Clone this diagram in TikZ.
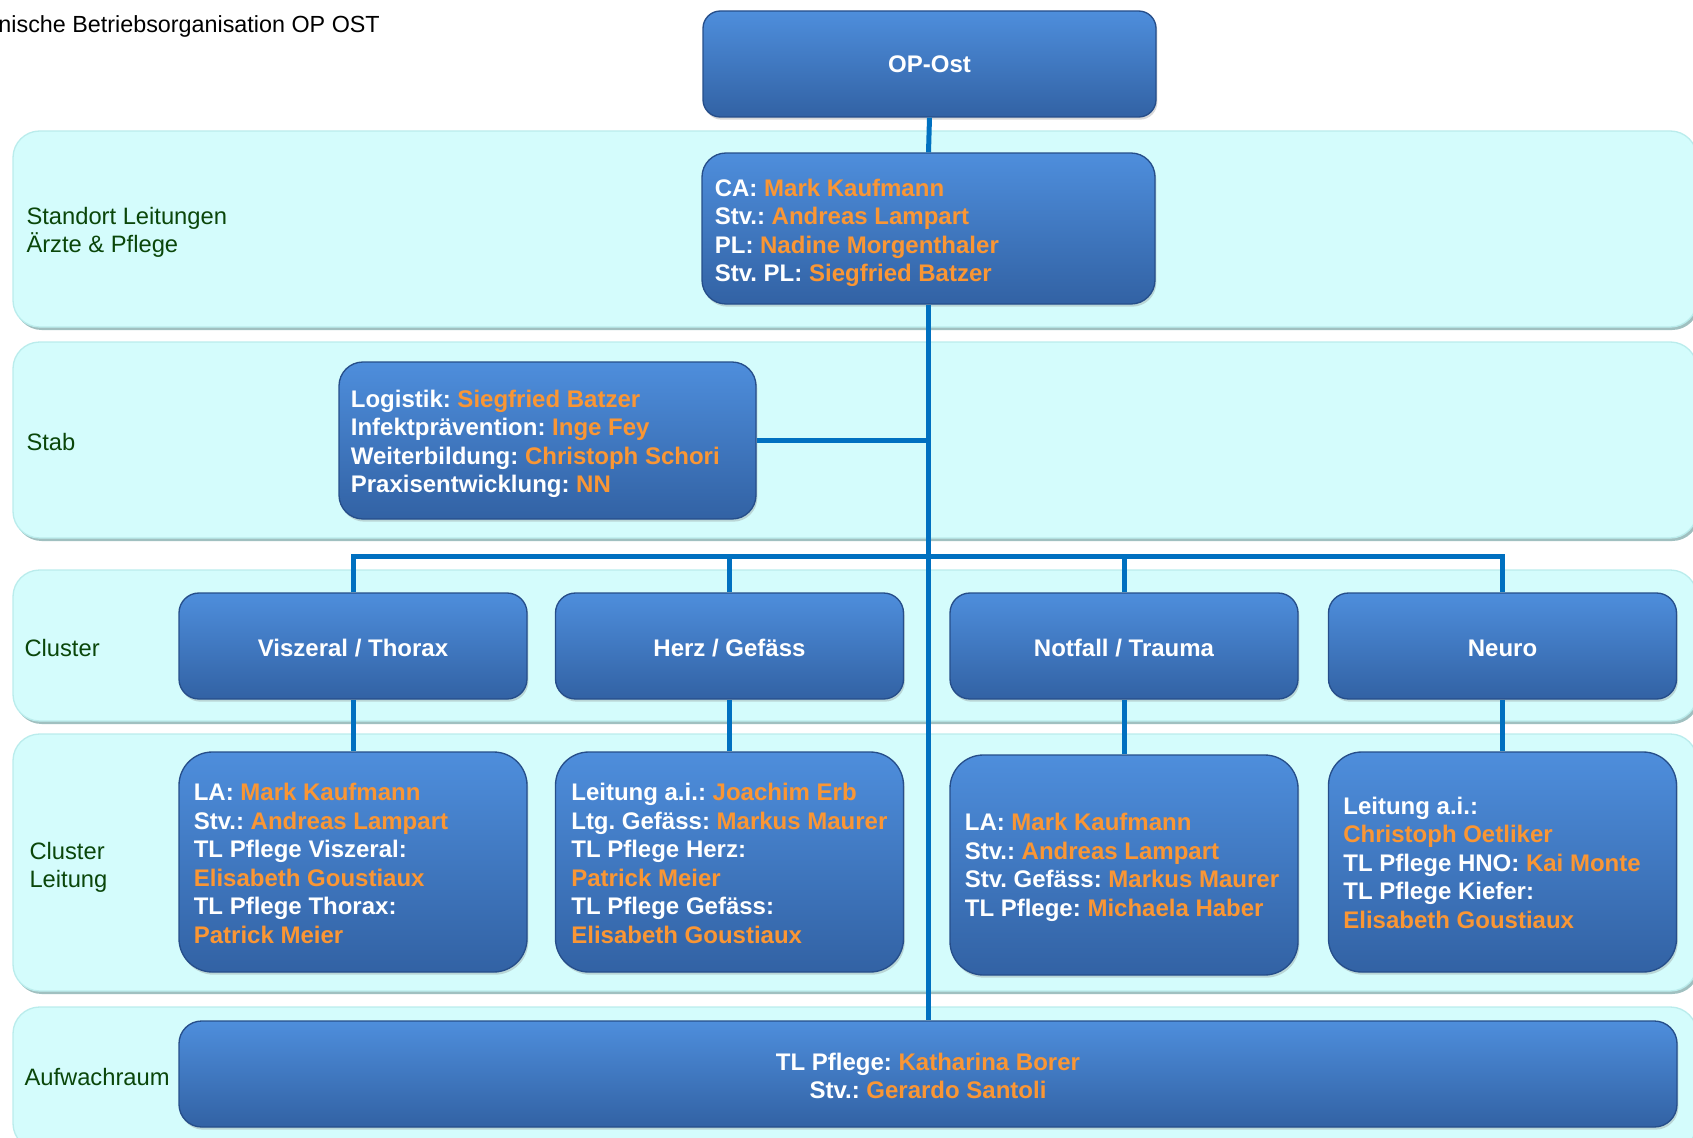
\documentclass[tikz,border=0pt]{standalone}
\usepackage{fontspec}
\setmainfont{Liberation Sans}
\usetikzlibrary{shadows}
\frenchspacing

\definecolor{bandfill}{RGB}{212,252,252}
\definecolor{bandline}{RGB}{186,236,236}
\definecolor{bandshade}{RGB}{160,192,192}
\definecolor{boxtop}{RGB}{78,142,220}
\definecolor{boxbot}{RGB}{50,98,164}
\definecolor{boxline}{RGB}{38,78,138}
\definecolor{linkblue}{RGB}{0,112,192}
\definecolor{namecol}{RGB}{250,150,52}
\definecolor{rowlabel}{RGB}{10,70,10}
\newcommand{\pname}[1]{\textcolor{namecol}{#1}}

\tikzset{every picture/.style={line width=0.75pt}}
\tikzset{
	band/.style={draw=bandline, fill=bandfill, line width=1pt, rounded corners=20pt},
	bandshadow/.style={fill=bandshade, rounded corners=20pt},
	bluebox/.style={draw=boxline, line width=1pt, top color=boxtop, bottom color=boxbot, rounded corners=13pt, inner sep=0pt, drop shadow={shadow xshift=1pt, shadow yshift=-2pt, opacity=0.3}},
	boxtext/.style={text=white, font=\bfseries\fontsize{18}{21.4}\selectfont, align=left, inner sep=0pt, anchor=west},
	boxtitle/.style={text=white, font=\bfseries\fontsize{18}{21.4}\selectfont, align=center, inner sep=0pt},
	rowtext/.style={text=rowlabel, font=\fontsize{17.8}{20.8}\selectfont, align=left, inner sep=0pt, anchor=west},
	link/.style={draw=linkblue, line width=3.75pt},
}

\begin{document}
\begin{tikzpicture}[x=0.75pt,y=0.75pt,yscale=-1,xscale=1]
	\useasboundingbox (0,0) rectangle (1693,1138);

	%Rows [Standort Leitungen] 
	\fill[bandshadow] (15,134) rectangle (1699,330);
	\draw[band] (13,131) rectangle (1697,327);
	%Rows [Stab] 
	\fill[bandshadow] (15,345) rectangle (1699,541);
	\draw[band] (13,342) rectangle (1697,538);
	%Rows [Cluster] 
	\fill[bandshadow] (15,573) rectangle (1699,724);
	\draw[band] (13,570) rectangle (1697,721);
	%Rows [Cluster Leitung] 
	\fill[bandshadow] (15,737) rectangle (1699,994);
	\draw[band] (13,734) rectangle (1697,991);
	%Rows [Aufwachraum] 
	\fill[bandshadow] (15,1010) rectangle (1699,1153);
	\draw[band] (13,1007) rectangle (1697,1150);

	% Text Node
	\node[anchor=base west, inner sep=0pt, font=\fontsize{17.5}{21}\selectfont] (subtitle) at (-2,33) {nische Betriebsorganisation OP OST};

	% Text Node
	\node[rowtext] (lblstandort) at (26,232) {Standort Leitungen\\Ärzte \& Pflege};
	% Text Node
	\node[rowtext] (lblstab) at (26,442) {Stab};
	% Text Node
	\node[rowtext] (lblcluster) at (24,648) {Cluster};
	% Text Node
	\node[rowtext] (lblcleitung) at (29,867) {Cluster\\Leitung};
	% Text Node
	\node[rowtext] (lblaufw) at (24,1077) {Aufwachraum};

	%Rounded Rect [OP-Ost] 
	\node[bluebox, minimum width=339.75pt, minimum height=79.5pt] (opost) at (929.5,64) {};
	\node[boxtitle] (opostlbl) at (opost.center) {OP-Ost};
	%Rounded Rect [Standort] 
	\node[bluebox, minimum width=339.75pt, minimum height=113.25pt, rounded corners=18pt] (ca) at (928.5,228.5) {};
	\node[boxtext] (catext) at ([shift={(13,4.5)}]ca.west) {CA: \pname{Mark Kaufmann}\\Stv.: \pname{Andreas Lampart}\\PL: \pname{Nadine Morgenthaler}\\Stv. PL: \pname{Siegfried Batzer}};
	%Rounded Rect [Stab] 
	\node[bluebox, minimum width=312.75pt, minimum height=117.75pt, rounded corners=18pt] (stab) at (547.5,440.5) {};
	\node[boxtext] (stabtext) at ([shift={(12,3.5)}]stab.west) {Logistik: \pname{Siegfried Batzer}\\Infektprävention: \pname{Inge Fey}\\Weiterbildung: \pname{Christoph Schori}\\Praxisentwicklung: \pname{NN}};

	%Rounded Rect [Cluster] 
	\node[bluebox, minimum width=261pt, minimum height=79.5pt, rounded corners=15pt] (cvt) at (353,646) {};
	\node[boxtitle] (cvtlbl) at ([shift={(0,2.5)}]cvt.center) {Viszeral / Thorax};
	\node[bluebox, minimum width=261pt, minimum height=79.5pt, rounded corners=15pt] (chg) at (729.5,646) {};
	\node[boxtitle] (chglbl) at ([shift={(0,2.5)}]chg.center) {Herz / Gefäss};
	\node[bluebox, minimum width=261pt, minimum height=79.5pt, rounded corners=15pt] (cnt) at (1124,646) {};
	\node[boxtitle] (cntlbl) at ([shift={(0,2.5)}]cnt.center) {Notfall / Trauma};
	\node[bluebox, minimum width=261pt, minimum height=79.5pt, rounded corners=15pt] (cneu) at (1502.5,646) {};
	\node[boxtitle] (cneulbl) at ([shift={(0,2.5)}]cneu.center) {Neuro};

	%Rounded Rect [Cluster Leitung] 
	\node[bluebox, minimum width=261pt, minimum height=165pt, rounded corners=25pt] (lvt) at (353,862) {};
	\node[boxtext] (lvttext) at ([shift={(15,1.5)}]lvt.west) {LA: \pname{Mark Kaufmann}\\Stv.: \pname{Andreas Lampart}\\TL Pflege Viszeral:\\\pname{Elisabeth Goustiaux}\\TL Pflege Thorax:\\\pname{Patrick Meier}};
	\node[bluebox, minimum width=261pt, minimum height=165pt, rounded corners=25pt] (lhg) at (729.5,862) {};
	\node[boxtext] (lhgtext) at ([shift={(16,1.5)}]lhg.west) {Leitung a.i.: \pname{Joachim Erb}\\Ltg. Gefäss: \pname{Markus Maurer}\\TL Pflege Herz:\\\pname{Patrick Meier}\\TL Pflege Gefäss:\\\pname{Elisabeth Goustiaux}};
	\node[bluebox, minimum width=261pt, minimum height=165pt, rounded corners=25pt] (lnt) at (1124,865) {};
	\node[boxtext] (lnttext) at ([shift={(15,2.5)}]lnt.west) {LA: \pname{Mark Kaufmann}\\Stv.: \pname{Andreas Lampart}\\Stv. Gefäss: \pname{Markus Maurer}\\TL Pflege: \pname{Michaela Haber}};
	\node[bluebox, minimum width=261pt, minimum height=165pt, rounded corners=25pt] (lneu) at (1502.5,862) {};
	\node[boxtext] (lneutext) at ([shift={(15,0.5)}]lneu.west) {Leitung a.i.:\\\pname{Christoph Oetliker}\\TL Pflege HNO: \pname{Kai Monte}\\TL Pflege Kiefer:\\\pname{Elisabeth Goustiaux}};

	%Rounded Rect [Aufwachraum] 
	\node[bluebox, minimum width=1123.5pt, minimum height=79.5pt, rounded corners=17pt] (aufw) at (928,1074) {};
	\node[boxtitle] (aufwlbl) at ([shift={(0,2)}]aufw.center) {TL Pflege: \pname{Katharina Borer}\\Stv.: \pname{Gerardo Santoli}};

	%Straight Lines 
	\coordinate (bus) at (929,556);
	\draw[link] (opost.south) -- (ca.north);
	\draw[link] (ca.south) -- (ca.south |- aufw.north);
	\draw[link] (stab.east) -- (stab.east -| ca.south);
	\draw[link] (cvt.north) |- (bus) -| (cneu.north);
	\draw[link] (chg.north) -- (chg.north |- bus);
	\draw[link] (cnt.north) -- (cnt.north |- bus);
	%Straight Lines 
	\draw[link] (cvt.south) -- (lvt.north);
	\draw[link] (chg.south) -- (lhg.north);
	\draw[link] (cnt.south) -- (lnt.north);
	\draw[link] (cneu.south) -- (lneu.north);

\end{tikzpicture}
\end{document}
